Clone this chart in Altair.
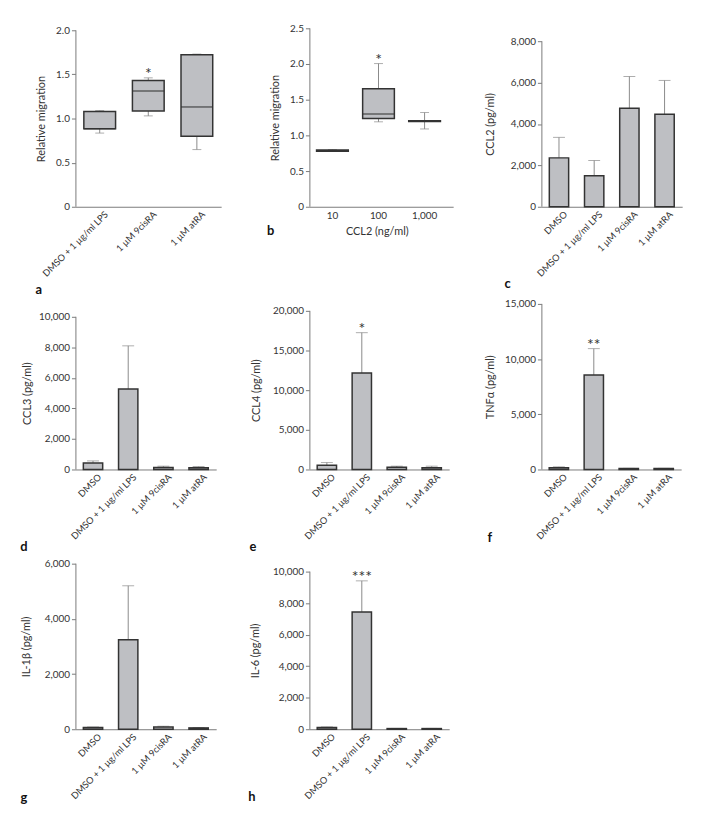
import altair as alt
import pandas as pd

FONT = "Lato"
BAR_FILL = "#bebfc3"
BAR_STROKE = "#333333"
ERR_COLOR = "#8a8a8a"
AXIS_COLOR = "#7a7a7a"
TEXT_COLOR = "#333333"

TREAT4 = ["DMSO", "DMSO + 1 µg/ml LPS", "1 µM 9cisRA", "1 µM atRA"]
TREAT3 = ["DMSO + 1 µg/ml LPS", "1 µM 9cisRA", "1 µM atRA"]
DOSE = ["10", "100", "1,000"]

# panel a (box plots, relative migration)
a_low = [0.835, 1.030, 0.648]
a_q1 = [0.884, 1.086, 0.798]
a_med = [0.884, 1.311, 1.131]
a_q3 = [1.079, 1.430, 1.722]
a_high = [1.090, 1.461, 1.730]
a_sig = ["", "*", ""]

# panel b (box plots, CCL2 dose)
b_low = [0.775, 1.190, 1.090]
b_q1 = [0.776, 1.238, 1.195]
b_med = [0.780, 1.300, 1.200]
b_q3 = [0.795, 1.654, 1.205]
b_high = [0.800, 2.006, 1.320]
b_sig = ["", "*", ""]

# bar panels: mean and mean+error
c_mean = [2362, 1500, 4757, 4470]
c_top = [3353, 2236, 6295, 6104]
c_sig = ["", "", "", ""]

d_mean = [432, 5270, 130, 108]
d_top = [562, 8099, 216, 194]
d_sig = ["", "", "", ""]

e_mean = [542, 12167, 292, 208]
e_top = [875, 17250, 417, 417]
e_sig = ["", "*", "", ""]

f_mean = [150, 8550, 90, 90]
f_top = [240, 10950, 100, 100]
f_sig = ["", "**", "", ""]

g_mean = [60, 3239, 84, 48]
g_top = [80, 5199, 108, 60]
g_sig = ["", "", "", ""]

h_mean = [105, 7442, 42, 42]
h_top = [147, 9413, 50, 50]
h_sig = ["", "***", "", ""]

# layout: common plot height per row; visible axis height per panel
ROW_H = [180, 167, 167]
ROW_FRAME = [(-17, 271), (-7, 254), (-8, 247)]
COL_FRAME = [(-68, 165), (-71, 162), (-72, 161)]

XLAB = dict(labelAngle=-45, ticks=False, tickSize=0, labelPadding=3,
            labelLimit=200, labelFontSize=9.3, labelOffset=4)


def frame(col, row):
    x0, x1 = COL_FRAME[col]
    y0, y1 = ROW_FRAME[row]
    return alt.Chart(alt.Data(values=[{"k": 0}])).mark_rect(opacity=0).encode(
        x=alt.value(x0), x2=alt.value(x1), y=alt.value(y0), y2=alt.value(y1)
    )


def letter(txt, x, y):
    return alt.Chart(alt.Data(values=[{"k": 0}])).mark_text(
        font=FONT, fontSize=13, fontWeight="bold", align="center",
        baseline="alphabetic", color="#111111"
    ).encode(x=alt.value(x), y=alt.value(y), text=alt.value(txt))


def axis_line(tick_max, yscale, yaxis):
    df = pd.DataFrame({"lo": [0], "hi": [tick_max]})
    return alt.Chart(df).mark_rule(color=AXIS_COLOR, strokeWidth=1).encode(
        x=alt.value(0.5), y=alt.Y("lo:Q", scale=yscale, axis=yaxis), y2=alt.Y2("hi:Q")
    )


def stars_layer(base, xenc, yfield, yscale, yaxis):
    return base.mark_text(
        font=FONT, fontSize=16, baseline="alphabetic", dy=1, color="#333333"
    ).encode(x=xenc, y=alt.Y(yfield, scale=yscale, axis=yaxis), text="sig:N")


def bar_panel(means, tops, sig, ytitle, tick_max, step, vis_h, w, title_x,
              lt, lx, ly, col, row):
    H = ROW_H[row]
    dom_max = tick_max * H / vis_h
    df = pd.DataFrame({"cat": TREAT4, "mean": means, "top": tops, "sig": sig})
    xenc = alt.X(
        "cat:N", sort=TREAT4,
        scale=alt.Scale(paddingInner=0, paddingOuter=0),
        axis=alt.Axis(title=None, **XLAB),
    )
    yscale = alt.Scale(domain=[0, dom_max], nice=False, zero=True)
    yaxis = alt.Axis(
        title=ytitle, values=list(range(0, tick_max + 1, step)), format=",.0f",
        domain=False, titleX=title_x, titleY=H - vis_h / 2,
        titleBaseline="middle", titleAngle=-90,
    )
    base = alt.Chart(df)
    err = base.mark_rule(color=ERR_COLOR, strokeWidth=1).encode(
        x=xenc, y=alt.Y("mean:Q", scale=yscale, axis=yaxis), y2=alt.Y2("top:Q")
    )
    cap = base.mark_tick(color=ERR_COLOR, thickness=1, size=12).encode(
        x=xenc, y=alt.Y("top:Q", scale=yscale, axis=yaxis)
    )
    bars = base.mark_bar(fill=BAR_FILL, stroke=BAR_STROKE, strokeWidth=1.5, size=19.5).encode(
        x=xenc, y=alt.Y("mean:Q", scale=yscale, axis=yaxis)
    )
    st = stars_layer(base, xenc, "top:Q", yscale, yaxis)
    return alt.layer(
        axis_line(tick_max, yscale, yaxis), err, cap, bars, st,
        letter(lt, lx, ly), frame(col, row)
    ).properties(width=w, height=H)


def box_panel(cats, low, q1, med, q3, high, sig, tick_max, vis_h, w, title_x,
              xaxis, xscale, lt, lx, ly, col, row):
    H = ROW_H[row]
    dom_max = tick_max * H / vis_h
    df = pd.DataFrame({"cat": cats, "low": low, "q1": q1, "med": med, "q3": q3,
                       "high": high, "sig": sig})
    xenc = alt.X("cat:N", sort=cats, scale=xscale, axis=xaxis)
    yscale = alt.Scale(domain=[0, dom_max], nice=False, zero=True)
    vals = [i * 0.5 for i in range(int(round(tick_max / 0.5)) + 1)]
    yaxis = alt.Axis(
        title="Relative migration", values=vals,
        labelExpr="datum.value == 0 ? '0' : format(datum.value, '.1f')",
        domain=False, titleX=title_x, titleY=H - vis_h / 2,
        titleBaseline="middle", titleAngle=-90,
    )
    base = alt.Chart(df)
    whisk = base.mark_rule(color=ERR_COLOR, strokeWidth=1).encode(
        x=xenc, y=alt.Y("low:Q", scale=yscale, axis=yaxis), y2=alt.Y2("high:Q")
    )
    cap_lo = base.mark_tick(color=ERR_COLOR, thickness=1, size=9).encode(
        x=xenc, y=alt.Y("low:Q", scale=yscale, axis=yaxis)
    )
    cap_hi = base.mark_tick(color=ERR_COLOR, thickness=1, size=9).encode(
        x=xenc, y=alt.Y("high:Q", scale=yscale, axis=yaxis)
    )
    box = base.mark_bar(fill=BAR_FILL, stroke=BAR_STROKE, strokeWidth=1.5, size=32).encode(
        x=xenc, y=alt.Y("q1:Q", scale=yscale, axis=yaxis), y2=alt.Y2("q3:Q")
    )
    median = base.mark_tick(color=BAR_STROKE, thickness=1.5, size=32).encode(
        x=xenc, y=alt.Y("med:Q", scale=yscale, axis=yaxis)
    )
    st = stars_layer(base, xenc, "high:Q", yscale, yaxis)
    return alt.layer(
        axis_line(tick_max, yscale, yaxis), whisk, cap_lo, cap_hi, box, median, st,
        letter(lt, lx, ly), frame(col, row)
    ).properties(width=w, height=H)


pa = box_panel(
    TREAT3, a_low, a_q1, a_med, a_q3, a_high, a_sig, 2.0, 178, 147, -34,
    alt.Axis(title=None, **XLAB),
    alt.Scale(paddingInner=0, paddingOuter=0),
    "a", -37, 268, 0, 0,
)
pb = box_panel(
    DOSE, b_low, b_q1, b_med, b_q3, b_high, b_sig, 2.5, 180, 145, -34,
    alt.Axis(title="CCL2 (ng/ml)", labelAngle=0, ticks=False, tickSize=0, labelPadding=4,
             titleX=68, titleY=25, titleBaseline="middle"),
    alt.Scale(paddingInner=0, paddingOuter=0.06, align=0),
    "b", -39, 208, 1, 0,
)
pc = bar_panel(c_mean, c_top, c_sig, "CCL2 (pg/ml)", 8000, 2000, 167, 142, -51,
               "c", -34, 262, 2, 0)
pd_ = bar_panel(d_mean, d_top, d_sig, "CCL3 (pg/ml)", 10000, 2000, 154, 142, -48,
                "d", -52, 249, 0, 1)
pe = bar_panel(e_mean, e_top, e_sig, "CCL4 (pg/ml)", 20000, 5000, 160, 141, -53,
               "e", -57, 249, 1, 1)
pf = bar_panel(f_mean, f_top, f_sig, "TNFα (pg/ml)", 15000, 5000, 167, 141, -51,
               "f", -52, 240, 2, 1)
pg = bar_panel(g_mean, g_top, g_sig, "IL-1β (pg/ml)", 6000, 2000, 167, 142, -49,
               "g", -52, 240, 0, 2)
ph = bar_panel(h_mean, h_top, h_sig, "IL-6 (pg/ml)", 10000, 2000, 159, 141, -54,
               "h", -58, 239, 1, 2)

chart = alt.vconcat(
    alt.hconcat(pa, pb, pc, spacing=0),
    alt.hconcat(pd_, pe, pf, spacing=0),
    alt.hconcat(pg, ph, spacing=0),
    spacing=0,
).properties(padding=0).configure_view(strokeWidth=0).configure_axis(
    labelFont=FONT, titleFont=FONT, labelFontSize=10, titleFontSize=11,
    titleFontWeight="normal", labelColor=TEXT_COLOR, titleColor=TEXT_COLOR,
    domainColor=AXIS_COLOR, tickColor=AXIS_COLOR, domainWidth=1, tickWidth=1,
    grid=False, tickSize=4, labelPadding=2,
).configure_concat(spacing=0)

chart.save("out.html", embed_options={"renderer": "svg", "actions": False})
